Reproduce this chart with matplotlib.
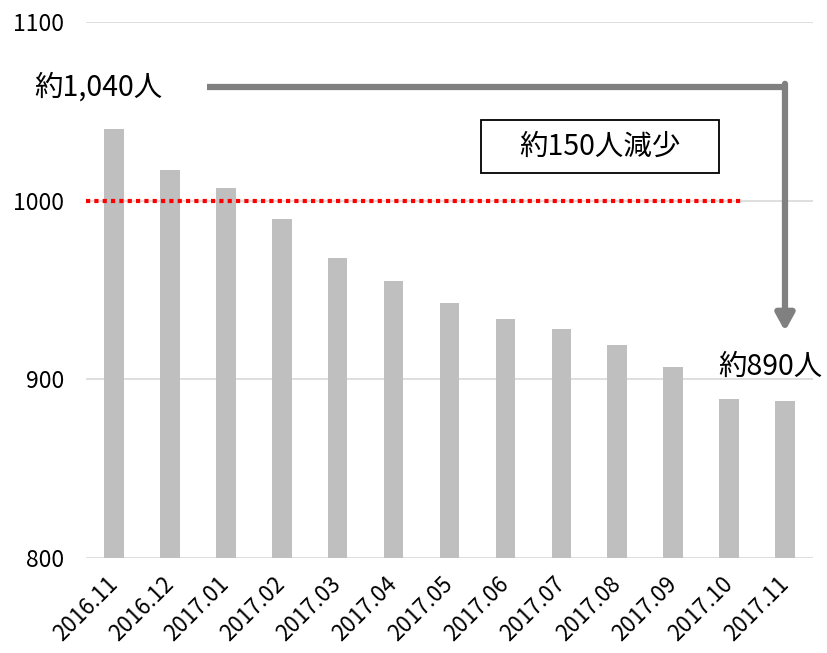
import matplotlib.pyplot as plt
from matplotlib.patches import Rectangle

plt.rcParams['font.family'] = ['Noto Sans CJK JP', 'DejaVu Sans']

months = ['2016.11', '2016.12', '2017.01', '2017.02', '2017.03', '2017.04', '2017.05',
          '2017.06', '2017.07', '2017.08', '2017.09', '2017.10', '2017.11']
people = [1040, 1017, 1007, 990, 968, 955, 943, 934, 928, 919, 907, 889, 888]
yticks = [800, 900, 1000, 1100]

fig = plt.figure(figsize=(8.27, 6.53), dpi=100)
ax = fig.add_axes([0.104, 0.1455, 0.879, 0.8205])

x = range(len(months))
ax.bar(x, people, width=0.35, color='#bfbfbf', zorder=2)

ax.set_xlim(-0.5, len(months) - 0.5)
ax.set_ylim(800, 1100)
ax.set_yticks(yticks)
ax.set_xticks(list(x))
ax.set_xticklabels(months, rotation=45, ha='right', va='center', rotation_mode='anchor', fontsize=16)
ax.tick_params(axis='y', labelsize=16.5, length=0, pad=16)
ax.tick_params(axis='x', length=0, pad=16)
ax.grid(axis='y', color='#d9d9d9', linewidth=1.2, zorder=0)
for s in ax.spines.values():
    s.set_visible(False)

# 基準線 1000
ax.plot([-0.5, 11.25], [1000, 1000], color='red', linestyle=(0, (1, 1)), linewidth=3, zorder=3)

# 矢印
ax.plot([1.66, 12], [1063.5, 1063.5], color='#808080', linewidth=4.5, solid_capstyle='butt', zorder=4)
ax.annotate('', xy=(12, 927), xytext=(12, 1065.5),
            arrowprops=dict(arrowstyle='-|>,head_width=0.55,head_length=1.0',
                            color='#808080', lw=4.5, shrinkA=0, shrinkB=0), zorder=4)

ax.text(-0.28, 1063.5, '約1,040人', fontsize=20.5, ha='center', va='center')
ax.text(11.74, 907, '約890人', fontsize=20.5, ha='center', va='center')
ax.add_patch(Rectangle((6.57, 1015.4), 4.25, 29.6, facecolor='white', edgecolor='black',
                       linewidth=1.3, zorder=5))
ax.text(8.7, 1030, '約150人減少', fontsize=20.5, ha='center', va='center', zorder=6)

fig.savefig('out.png', dpi=100)
